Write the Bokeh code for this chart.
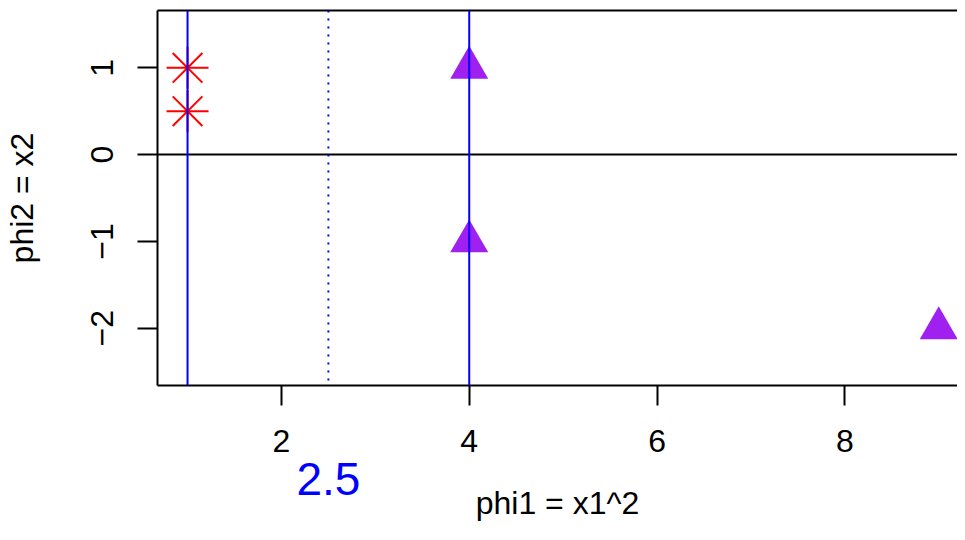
from bokeh.plotting import figure
from bokeh.models import Span, LinearAxis, FixedTicker, Range1d
from bokeh.embed import file_html
from bokeh.resources import INLINE

# ---- data ----
red_x = [1, 1]
red_y = [1, 0.5]
purple_x = [4, 4, 9]
purple_y = [1, -1, -2]
solid_vlines = [1, 4]
dotted_vlines = [2.5]
hlines = [0]
x_ticks = [2, 4, 6, 8]
y_ticks = [-2, -1, 0, 1]
y_tick_labels = ["\u22122", "\u22121", "0", "1"]
note_x = [2.5]
note_labels = ["2.5"]
x_label = "phi1 = x1^2"
y_label = "phi2 = x2"

FONT = "Liberation Sans"

p = figure(width=957, height=524,
           x_range=Range1d(0.68, 9.2), y_range=Range1d(-2.66, 1.66),
           output_backend="svg", toolbar_location=None,
           min_border_left=157, min_border_right=0,
           min_border_top=10, min_border_bottom=139)
p.outline_line_color = None
p.grid.visible = False
p.background_fill_color = "white"
p.border_fill_color = "white"

# main x axis
xa = p.xaxis[0]
xa.ticker = FixedTicker(ticks=x_ticks)
xa.major_tick_out = 20
xa.major_tick_in = 0
xa.major_tick_line_width = 2
xa.major_tick_line_color = "black"
xa.minor_tick_line_color = None
xa.axis_line_width = 2
xa.axis_line_color = "black"
xa.major_label_text_font = FONT
xa.major_label_text_font_size = "32px"
xa.major_label_text_color = "black"
xa.major_label_standoff = 24

# second axis below: the blue "2.5" note and the x label
ax2 = LinearAxis(ticker=FixedTicker(ticks=note_x),
                 major_label_overrides={note_x[0]: note_labels[0]},
                 axis_line_color=None, major_tick_line_color=None,
                 minor_tick_line_color=None, major_tick_out=0, major_tick_in=0,
                 major_label_text_font=FONT, major_label_text_font_size="46px",
                 major_label_text_color="blue", major_label_standoff=8,
                 axis_label=x_label, axis_label_text_font=FONT,
                 axis_label_text_font_size="32px", axis_label_text_color="black",
                 axis_label_text_font_style="normal", axis_label_standoff=-13)
p.add_layout(ax2, "below")

# y axis
ya = p.yaxis[0]
ya.ticker = FixedTicker(ticks=y_ticks)
ya.major_label_overrides = {t: s for t, s in zip(y_ticks, y_tick_labels)}
ya.major_label_orientation = "vertical"
ya.major_tick_out = 20
ya.major_tick_in = 0
ya.major_tick_line_width = 2
ya.major_tick_line_color = "black"
ya.minor_tick_line_color = None
ya.axis_line_width = 2
ya.axis_line_color = "black"
ya.major_label_text_font = FONT
ya.major_label_text_font_size = "32px"
ya.major_label_text_color = "black"
ya.major_label_standoff = 24
ya.axis_label = y_label
ya.axis_label_text_font = FONT
ya.axis_label_text_font_size = "32px"
ya.axis_label_text_color = "black"
ya.axis_label_text_font_style = "normal"
ya.axis_label_standoff = 49

# top border of the box
top = LinearAxis(ticker=FixedTicker(ticks=[]), major_tick_line_color=None,
                 minor_tick_line_color=None, major_tick_out=0, major_tick_in=0,
                 major_label_standoff=0, axis_line_width=2, axis_line_color="black")
p.add_layout(top, "above")

# reference lines
p.add_layout(Span(location=hlines[0], dimension="width", line_color="black", line_width=2))

p.scatter(red_x, red_y, marker="asterisk", size=42, line_color="red", line_width=2)
p.scatter(purple_x, purple_y, marker="triangle", size=38, fill_color="#A020F0", line_color=None)

for v in solid_vlines:
    p.add_layout(Span(location=v, dimension="height", line_color="blue", line_width=2))
for v in dotted_vlines:
    p.add_layout(Span(location=v, dimension="height", line_color="blue", line_width=2, line_dash="2 6"))

open("out.html", "w").write(file_html(p, INLINE))
